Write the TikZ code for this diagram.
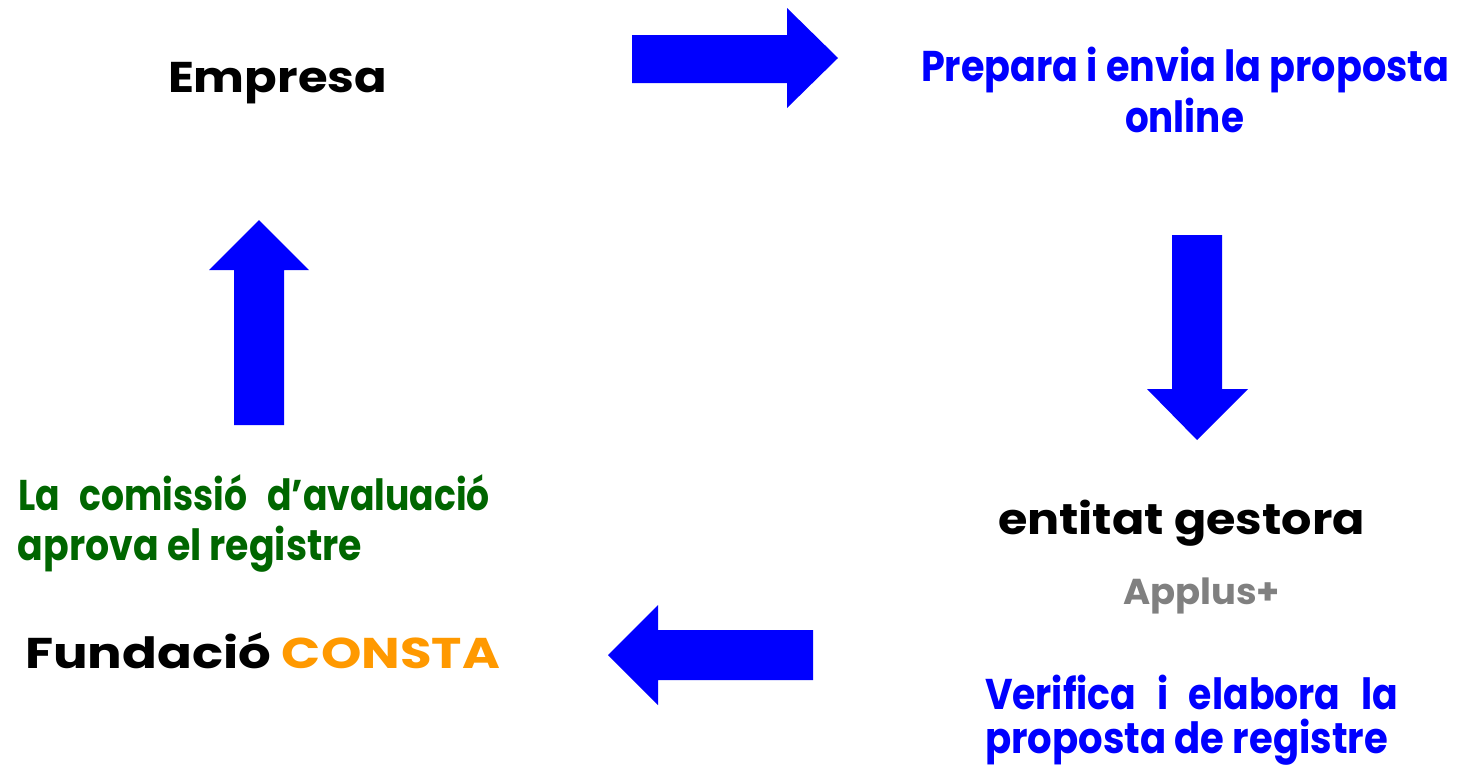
\documentclass[tikz,border=0pt]{standalone}
\usepackage{fontspec}
\setmainfont{Poppins}
\usepackage{graphicx}
\definecolor{cblue}{RGB}{0,0,255}
\definecolor{cgreen}{RGB}{0,102,0}
\definecolor{corange}{RGB}{255,153,0}
\definecolor{cgray}{RGB}{128,128,128}
\newcommand\fitline[2]{\resizebox{#1pt}{\height}{#2}}
\newcommand\wsp{\hspace{0.55em}}
\tikzset{
  lbl/.style={anchor=base west, inner sep=0pt, outer sep=0pt,
    font=\fontsize{43}{50}\selectfont\bfseries},
  smalllbl/.style={lbl, font=\fontsize{36}{42}\selectfont\bfseries},
  bigarrow/.style={fill=cblue, draw=none}
}
\begin{document}
\begin{tikzpicture}[x=1pt,y=-1pt]
\useasboundingbox (0,0) rectangle (1459,769);
% texts
\node[lbl] (emp) at (168,92) {\fitline{219}{Empresa}};
\node[lbl,text=cblue] (prep1) at (921,81) {\fitline{528}{Prepara i envia la proposta}};
\node[lbl,text=cblue] (prep2) at (1125,132) {\fitline{119}{online}};
\node[lbl] (ent) at (998,534) {\fitline{367}{entitat gestora}};
\node[smalllbl,text=cgray] (app) at (1123,604) {\fitline{157}{Applus+}};
\node[lbl,text=cblue] (ver1) at (985,709) {\fitline{413}{Verifica\wsp i\wsp elabora\wsp la}};
\node[lbl,text=cblue] (ver2) at (985,753) {\fitline{403}{proposta de registre}};
\node[lbl,text=cgreen] (com1) at (18,510) {\fitline{472}{La\wsp comissió\wsp d’avaluació}};
\node[lbl,text=cgreen] (com2) at (18,560) {\fitline{344}{aprova el registre}};
\node[lbl] (fund) at (25,668) {\fitline{475}{Fundació \textcolor{corange}{CONSTA}}};
% block arrows
\fill[bigarrow] (632,35) -- (787,35) -- (787,8) -- (838,58) -- (787,108) -- (787,83) -- (632,83) -- cycle;
\fill[bigarrow] (1172,235) -- (1222,235) -- (1222,389) -- (1248,389) -- (1197,440) -- (1147,389) -- (1172,389) -- cycle;
\fill[bigarrow] (813,630) -- (658,630) -- (658,605) -- (608,655) -- (658,705) -- (658,680) -- (813,680) -- cycle;
\fill[bigarrow] (234,425) -- (234,270) -- (209,270) -- (259,220) -- (309,270) -- (284,270) -- (284,425) -- cycle;
\end{tikzpicture}
\end{document}
